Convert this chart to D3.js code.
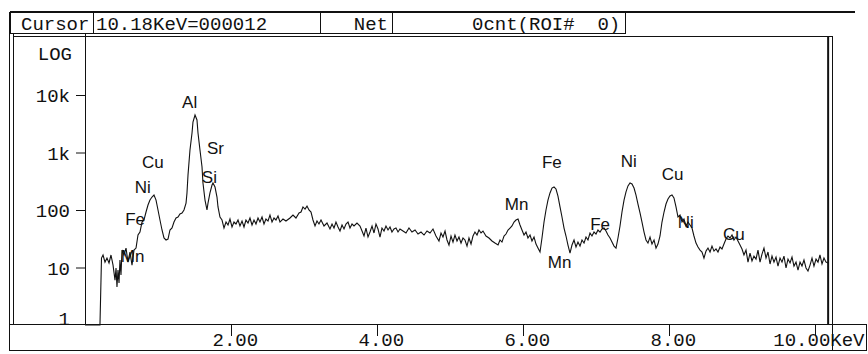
<!DOCTYPE html>
<html><head><meta charset="utf-8">
<script src="https://cdn.jsdelivr.net/npm/d3@7"></script>
<style>
html,body{margin:0;padding:0;background:#fff;}
svg{display:block;}
.mono{font-family:"Liberation Mono","DejaVu Sans Mono",monospace;font-size:19px;fill:#111;}
.pk{font-family:"Liberation Sans",Arial,sans-serif;font-size:17px;fill:#111;}
</style></head>
<body>
<svg id="chart" width="868" height="354"></svg>
<script>
// ---- data ----
const energyKeV = [0.000,0.205,0.226,0.247,0.274,0.301,0.329,0.356,0.384,0.411,0.425,0.438,0.452,0.466,0.479,0.493,0.507,0.534,0.562,0.589,0.616,0.644,0.671,0.699,0.726,0.753,0.781,0.808,0.836,0.863,0.890,0.918,0.945,0.973,1.000,1.027,1.055,1.082,1.110,1.137,1.164,1.192,1.219,1.247,1.274,1.301,1.329,1.356,1.384,1.397,1.411,1.438,1.466,1.479,1.507,1.534,1.548,1.575,1.603,1.616,1.644,1.671,1.685,1.712,1.740,1.753,1.781,1.808,1.822,1.849,1.877,1.904,1.932,1.959,1.986,2.014,2.041,2.068,2.096,2.123,2.151,2.178,2.205,2.233,2.260,2.288,2.315,2.342,2.370,2.397,2.425,2.452,2.479,2.507,2.534,2.562,2.589,2.616,2.644,2.671,2.712,2.753,2.808,2.849,2.890,2.932,2.959,2.986,3.014,3.041,3.068,3.096,3.123,3.151,3.178,3.205,3.233,3.274,3.315,3.356,3.384,3.411,3.438,3.466,3.493,3.521,3.548,3.575,3.603,3.630,3.658,3.685,3.726,3.767,3.795,3.822,3.849,3.877,3.904,3.932,3.959,3.986,4.014,4.041,4.068,4.096,4.123,4.151,4.178,4.205,4.233,4.260,4.288,4.315,4.356,4.397,4.438,4.479,4.521,4.562,4.603,4.644,4.685,4.726,4.767,4.808,4.849,4.877,4.904,4.932,4.959,4.986,5.014,5.041,5.068,5.096,5.123,5.151,5.178,5.205,5.233,5.260,5.288,5.315,5.342,5.370,5.397,5.425,5.452,5.493,5.534,5.575,5.616,5.658,5.685,5.712,5.740,5.767,5.795,5.822,5.849,5.877,5.904,5.932,5.959,5.986,6.014,6.041,6.068,6.096,6.123,6.151,6.178,6.205,6.233,6.260,6.288,6.315,6.342,6.370,6.397,6.425,6.452,6.479,6.507,6.534,6.562,6.589,6.616,6.644,6.671,6.699,6.726,6.753,6.781,6.808,6.836,6.863,6.890,6.918,6.945,6.973,7.000,7.027,7.055,7.082,7.110,7.137,7.164,7.192,7.219,7.247,7.274,7.301,7.329,7.356,7.384,7.411,7.438,7.466,7.493,7.521,7.548,7.575,7.603,7.630,7.658,7.685,7.712,7.740,7.767,7.795,7.822,7.849,7.877,7.904,7.932,7.959,7.986,8.014,8.041,8.068,8.096,8.123,8.151,8.178,8.205,8.233,8.260,8.288,8.315,8.342,8.370,8.397,8.425,8.452,8.479,8.507,8.534,8.562,8.589,8.616,8.644,8.671,8.699,8.726,8.753,8.781,8.808,8.836,8.863,8.890,8.918,8.945,8.973,9.000,9.027,9.055,9.082,9.110,9.137,9.164,9.192,9.219,9.247,9.274,9.301,9.329,9.356,9.384,9.411,9.438,9.466,9.493,9.521,9.548,9.575,9.603,9.630,9.658,9.685,9.712,9.740,9.767,9.795,9.822,9.849,9.877,9.904,9.932,9.959,9.986,10.014,10.041,10.068,10.096,10.123,10.151,10.178];
const counts = [1,1,14.6,16.5,12.4,14.6,12.0,16.5,11.0,6.0,9.8,4.6,9.0,5.4,13.5,7.4,20.1,16.5,21.8,12.4,18.6,11.0,20.1,21.8,36.7,41.4,61.8,67.0,92.3,122,149,168,182,149,100,67.0,44.9,32.6,30.1,31.3,44.9,48.6,61.8,72.6,75.5,85.2,88.7,100,132,198,407,1105,2183,3380,4490,3675,2183,1105,560,295,149,100,132,198,272,295,251,168,113,75.5,67.0,48.6,61.8,54.8,69.7,50.6,61.8,57.1,67.0,52.7,64.3,50.6,67.0,59.4,72.6,54.8,67.0,57.1,72.6,61.8,75.5,57.1,69.7,64.3,81.8,61.8,72.6,67.0,78.6,61.8,69.7,64.3,72.6,81.8,72.6,88.7,92.3,113,104,117,100,92.3,67.0,52.7,64.3,57.1,67.0,52.7,59.4,46.7,57.1,48.6,61.8,50.6,43.1,54.8,46.7,57.1,61.8,48.6,57.1,52.7,59.4,52.7,43.1,35.3,48.6,33.9,41.4,52.7,39.8,57.1,46.7,33.9,48.6,43.1,52.7,44.9,50.6,41.4,46.7,48.6,41.4,46.7,43.1,39.8,48.6,41.4,44.9,38.2,41.4,36.7,43.1,39.8,46.7,35.3,28.9,39.8,33.9,43.1,30.1,24.6,35.3,27.7,36.7,28.9,33.9,26.6,32.6,30.1,23.6,32.6,25.6,35.3,41.4,36.7,44.9,39.8,43.1,35.3,32.6,28.9,26.6,24.6,30.1,27.7,35.3,38.2,44.9,48.6,52.7,61.8,67.0,69.7,54.8,44.9,36.7,41.4,32.6,36.7,28.9,33.9,25.6,21.8,18.6,32.6,61.8,100,149,198,241,251,232,175,113,75.5,48.6,35.3,24.6,17.8,24.6,30.1,22.7,27.7,23.6,30.1,26.6,33.9,30.1,39.8,35.3,41.4,38.2,44.9,41.4,46.7,48.6,43.1,36.7,32.6,27.7,23.6,21.8,32.6,52.7,92.3,149,206,262,295,284,241,182,127,88.7,61.8,41.4,30.1,26.6,33.9,25.6,30.1,21.8,25.6,35.3,61.8,92.3,127,155,175,182,162,113,75.5,81.8,61.8,69.7,52.7,61.8,54.8,48.6,35.3,26.6,22.7,20.1,18.6,14.6,19.3,21.8,18.6,23.6,19.3,21.0,18.6,22.7,21.0,25.6,31.3,35.3,32.6,36.7,30.1,33.9,28.9,24.6,21.0,16.5,20.1,12.4,17.8,13.0,15.8,14.0,20.1,12.4,17.1,21.8,14.6,18.6,11.5,15.8,12.4,15.2,10.6,14.6,12.4,15.8,9.8,14.0,12.0,15.2,10.6,12.4,9.0,12.4,10.6,13.5,9.8,8.7,11.0,14.6,10.6,14.0,12.4,16.5,11.5,14.6,12.4,12];
const yTickValues = [1, 10, 100, 1000, 10000];
const yTickLabels = ["1", "10", "100", "1k", "10k"];
const xTickValues = [2, 4, 6, 8, 10];
const xTickLabels = ["2.00", "4.00", "6.00", "8.00", "10.00KeV"];
const headerCells = ["Cursor", "10.18KeV=000012", "Net", "0cnt(ROI#  0)"];
const cursorKeV = 10.18;
const peakLabels = ["Al","Sr","Si","Cu","Ni","Fe","Mn","Mn","Fe","Mn","Fe","Ni","Cu","Ni","Cu"];
const peakKeV    = [1.33,1.67,1.60,0.78,0.68,0.55,0.49,5.75,6.26,6.34,6.92,7.34,7.90,8.12,8.74];
const peakCounts = [5900,960,300,540,198,55,12.5,100,540,9.8,45,560,330,48,30];

// ---- layout ----
const svg = d3.select("#chart");
const x = d3.scaleLinear().domain([0, 10]).range([85, 815]);
const y = d3.scaleLog().domain([1, 10000]).range([325, 95]);

const g = svg.append("g").attr("stroke", "#111").attr("fill", "none").attr("stroke-width", 1);

// header
const cellEdges = [10, 93, 320, 392, 625];
g.append("line").attr("x1", 10).attr("x2", 855).attr("y1", 12).attr("y2", 12).attr("stroke-width", 1.8);
g.append("line").attr("x1", 10).attr("x2", 625).attr("y1", 33.5).attr("y2", 33.5);
cellEdges.forEach(e => g.append("line").attr("x1", e + 0.5).attr("x2", e + 0.5).attr("y1", 12).attr("y2", 34));
svg.append("text").attr("class","mono").attr("x", 21).attr("y", 30).text(headerCells[0]);
svg.append("text").attr("class","mono").attr("x", 96).attr("y", 30).text(headerCells[1]);
svg.append("text").attr("class","mono").attr("x", 388).attr("y", 30).attr("text-anchor","end").text(headerCells[2]);
svg.append("text").attr("class","mono").attr("x", 472).attr("y", 30).style("white-space","pre").text(headerCells[3]);

// frame
g.append("line").attr("x1", 9.5).attr("x2", 9.5).attr("y1", 12).attr("y2", 350.5);
g.append("line").attr("x1", 13.5).attr("x2", 13.5).attr("y1", 34).attr("y2", 325);
g.append("line").attr("x1", 13).attr("x2", 833).attr("y1", 36.5).attr("y2", 36.5);
g.append("line").attr("x1", 85.5).attr("x2", 85.5).attr("y1", 34).attr("y2", 325);
g.append("line").attr("x1", 832.5).attr("x2", 832.5).attr("y1", 36).attr("y2", 350.5);
g.append("rect").attr("x", 9.5).attr("y", 324.5).attr("width", 857).attr("height", 26);

// y axis
const yAxis = d3.axisLeft(y).tickValues(yTickValues)
  .tickFormat((d, i) => yTickLabels[i]).tickSize(9).tickPadding(6);
const ya = svg.append("g").attr("transform", "translate(85,0)").call(yAxis);
ya.select(".domain").remove();
ya.selectAll(".tick line").attr("stroke", "#111").attr("stroke-width", 1)
  .filter(d => d === 1).remove();
ya.selectAll(".tick text").attr("class", "mono").attr("font-family", null).attr("font-size", null)
  .attr("dy", d => d === 1 ? "-0.05em" : "0.36em");
svg.append("text").attr("class","mono").attr("x", 72).attr("y", 60).attr("text-anchor","end").text("LOG");

// x axis
const xAxis = d3.axisBottom(x).tickValues(xTickValues)
  .tickFormat((d, i) => xTickLabels[i]).tickSize(11).tickPadding(0);
const xa = svg.append("g").attr("transform", "translate(0,325)").call(xAxis);
xa.select(".domain").remove();
xa.selectAll(".tick line").attr("stroke", "#111").attr("stroke-width", 1);
xa.selectAll(".tick text").attr("class", "mono").attr("font-family", null).attr("font-size", null)
  .attr("text-anchor", (d, i) => i === xTickValues.length - 1 ? "end" : "start")
  .attr("x", (d, i) => i === xTickValues.length - 1 ? 866 - x(d) - 2 : -19)
  .attr("y", 21).attr("dy", 0);

// spectrum
const pts = energyKeV.map((e, i) => [e, counts[i]]);
const line = d3.line().x(d => x(d[0])).y(d => y(Math.max(1, d[1])));
svg.append("path").datum(pts).attr("d", line)
  .attr("fill", "none").attr("stroke", "#111").attr("stroke-width", 1.1).attr("stroke-linejoin", "miter");

// cursor
svg.append("line").attr("x1", x(cursorKeV)).attr("x2", x(cursorKeV))
  .attr("y1", 36).attr("y2", 325).attr("stroke", "#111").attr("stroke-width", 2);

// peak labels
svg.append("g").selectAll("text").data(peakLabels).join("text")
  .attr("class", "pk")
  .attr("x", (d, i) => x(peakKeV[i]))
  .attr("y", (d, i) => y(peakCounts[i]))
  .text(d => d);
</script>
</body></html>
